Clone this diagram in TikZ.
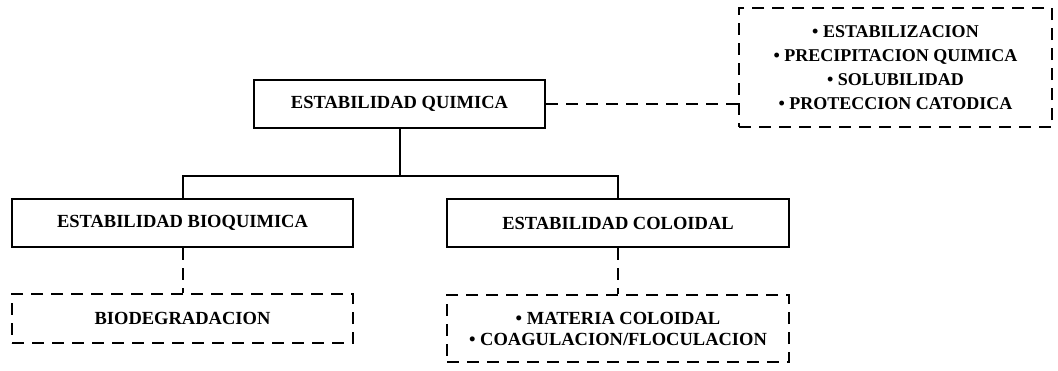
\documentclass[tikz,border=0pt]{standalone}
\usepackage{fontspec}
\setmainfont{Liberation Serif}
\usetikzlibrary{calc}

\begin{document}
\begin{tikzpicture}[x=1pt,y=-1pt,inner sep=0pt,
  caja/.style={draw,line width=2pt,align=center,font=\bfseries\fontsize{18.5}{21}\selectfont},
  cajad/.style={caja,dash pattern=on 12pt off 8pt},
  enlace/.style={line width=2pt},
  enlaced/.style={line width=2pt,dash pattern=on 12pt off 8pt}]
\useasboundingbox (0,0) rectangle (1058,370);
\def\u{48}
\node[caja,minimum width=291,minimum height=\u] (quim) at (399.5,104) {ESTABILIDAD QUIMICA};
\node[cajad,minimum width=313,minimum height=119,font=\bfseries\fontsize{18}{24}\selectfont] (lista) at (895.5,67.5)
  {\textbullet\ ESTABILIZACION\\ \textbullet\ PRECIPITACION QUIMICA\\ \textbullet\ SOLUBILIDAD\\ \textbullet\ PROTECCION CATODICA};
\node[caja,minimum width=341,minimum height=\u] (bioq) at (182.5,223) {ESTABILIDAD BIOQUIMICA};
\node[caja,minimum width=342,minimum height=\u] (colo) at (618,223) {ESTABILIDAD COLOIDAL};
\node[cajad,minimum width=341,minimum height=49] (biod) at (182.5,318.5) {BIODEGRADACION};
\node[cajad,minimum width=342,minimum height=67] (mat) at (618,328.5)
  {\textbullet\ MATERIA COLOIDAL\\ \textbullet\ COAGULACION/FLOCULACION};
\coordinate (j) at ($(quim.south) + (0,47)$);

\draw[enlace] (quim.south) -- (j);
\draw[enlace] (bioq.north) |- (j) -| (colo.north);
\draw[enlaced] (quim.east) -- (quim.east -| lista.west);
\draw[enlaced] (bioq.south) -- (biod.north);
\draw[enlaced] (colo.south) -- (mat.north);
\end{tikzpicture}
\end{document}
